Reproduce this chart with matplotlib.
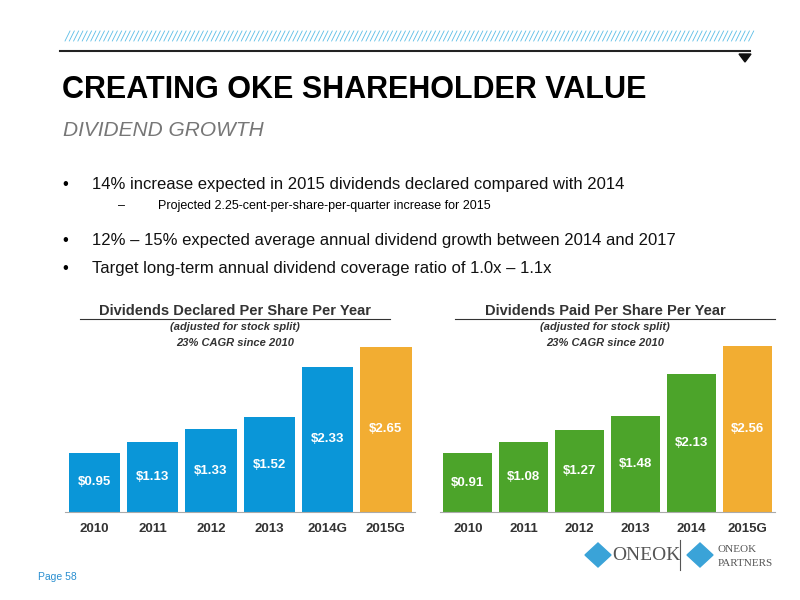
import matplotlib.pyplot as plt
from matplotlib.patches import Polygon

years_left = ['2010', '2011', '2012', '2013', '2014G', '2015G']
declared = [0.95, 1.13, 1.33, 1.52, 2.33, 2.65]
years_right = ['2010', '2011', '2012', '2013', '2014', '2015G']
paid = [0.91, 1.08, 1.27, 1.48, 2.13, 2.56]

BLUE = '#0a96d8'
GREEN = '#4ca42a'
ORANGE = '#f2ad32'

plt.rcParams['font.family'] = ['Liberation Sans', 'DejaVu Sans']
fig = plt.figure(figsize=(8, 6), dpi=100)
W, H = 800, 600


def px(x, y):
    return x / W, 1 - y / H


def ftext(x, y, s, **kw):
    fig.text(*px(x, y), s, **kw)


# header decoration
for i in range(160):
    x0 = 65 + i * 4.3
    fig.add_artist(plt.Line2D([px(x0, 41)[0], px(x0 + 5, 31)[0]],
                              [px(x0, 41)[1], px(x0 + 5, 31)[1]],
                              color='#5bbde6', lw=0.6))
fig.add_artist(plt.Line2D([px(60, 51)[0], px(750, 51)[0]], [px(0, 51)[1]] * 2,
                          color='#222222', lw=1.5))
fig.add_artist(Polygon([px(739, 54), px(751, 54), px(745, 62)],
                       closed=True, color='#111111'))

ftext(62, 90, 'CREATING OKE SHAREHOLDER VALUE', fontsize=22, fontweight='bold',
      va='center')
ftext(63, 130, 'DIVIDEND GROWTH', fontsize=15, style='italic', color='#777777',
      va='center')

bullets = [(184, '14% increase expected in 2015 dividends declared compared with 2014'),
           (240, '12% – 15% expected average annual dividend growth between 2014 and 2017'),
           (268, 'Target long-term annual dividend coverage ratio of 1.0x – 1.1x')]
for y, s in bullets:
    ftext(62, y, '•', fontsize=12, va='center')
    ftext(92, y, s, fontsize=12, va='center', color='#111111')
ftext(118, 206, '–', fontsize=9, va='center')
ftext(158, 206, 'Projected 2.25-cent-per-share-per-quarter increase for 2015',
      fontsize=9, va='center')


def chart(left, width, labels, vals, color, ymax, title, cx, lx0, lx1):
    ax = fig.add_axes([left / W, 88 / H, width / W, 190 / H])
    colors = [color] * (len(vals) - 1) + [ORANGE]
    xs = range(len(vals))
    ax.bar(xs, vals, width=0.88, color=colors)
    for x, v in zip(xs, vals):
        ax.text(x, v / 2, f'${v:.2f}', ha='center', va='center', color='white',
                fontsize=9.5, fontweight='bold')
    ax.set_ylim(0, ymax)
    ax.set_xlim(-0.5, len(vals) - 0.5)
    ax.set_xticks(list(xs))
    ax.set_xticklabels(labels, fontsize=9.5, fontweight='bold', color='#333333')
    ax.tick_params(length=0, pad=8)
    ax.set_yticks([])
    for s in ['top', 'left', 'right']:
        ax.spines[s].set_visible(False)
    ax.spines['bottom'].set_color('#aaaaaa')
    ftext(cx, 311, title, fontsize=10.5, fontweight='bold', ha='center',
          va='center', color='#333333')
    fig.add_artist(plt.Line2D([lx0 / W, lx1 / W], [px(0, 319)[1]] * 2,
                              color='#333333', lw=0.8))
    ftext(cx, 327, '(adjusted for stock split)', fontsize=8, style='italic',
          fontweight='bold', ha='center', va='center', color='#333333')
    ftext(cx, 343, '23% CAGR since 2010', fontsize=8, style='italic',
          fontweight='bold', ha='center', va='center', color='#333333')


chart(65, 350, years_left, declared, BLUE, 190 / 62.3,
      'Dividends Declared Per Share Per Year', 235, 80, 390)
chart(440, 335, years_right, paid, GREEN, 190 / 64.8,
      'Dividends Paid Per Share Per Year', 605, 455, 775)

ftext(612, 555, 'ONEOK', fontsize=14, family='Liberation Serif',
      color='#555555', va='center')
fig.add_artist(plt.Line2D([px(680, 540)[0]] * 2, [px(0, 540)[1], px(0, 570)[1]],
                          color='#555555', lw=0.8))
ftext(718, 549, 'ONEOK', fontsize=8, family='Liberation Serif', color='#555555', va='center')
ftext(718, 563, 'PARTNERS', fontsize=8, family='Liberation Serif', color='#555555', va='center')
for cx in (598, 700):
    fig.add_artist(Polygon([px(cx - 13, 555), px(cx, 543), px(cx + 13, 555), px(cx, 567)],
                           closed=True, color='#3aa3d8'))
ftext(38, 577, 'Page 58', fontsize=7.5, color='#2a8fd0', va='center')

fig.savefig('out.png', dpi=100)
